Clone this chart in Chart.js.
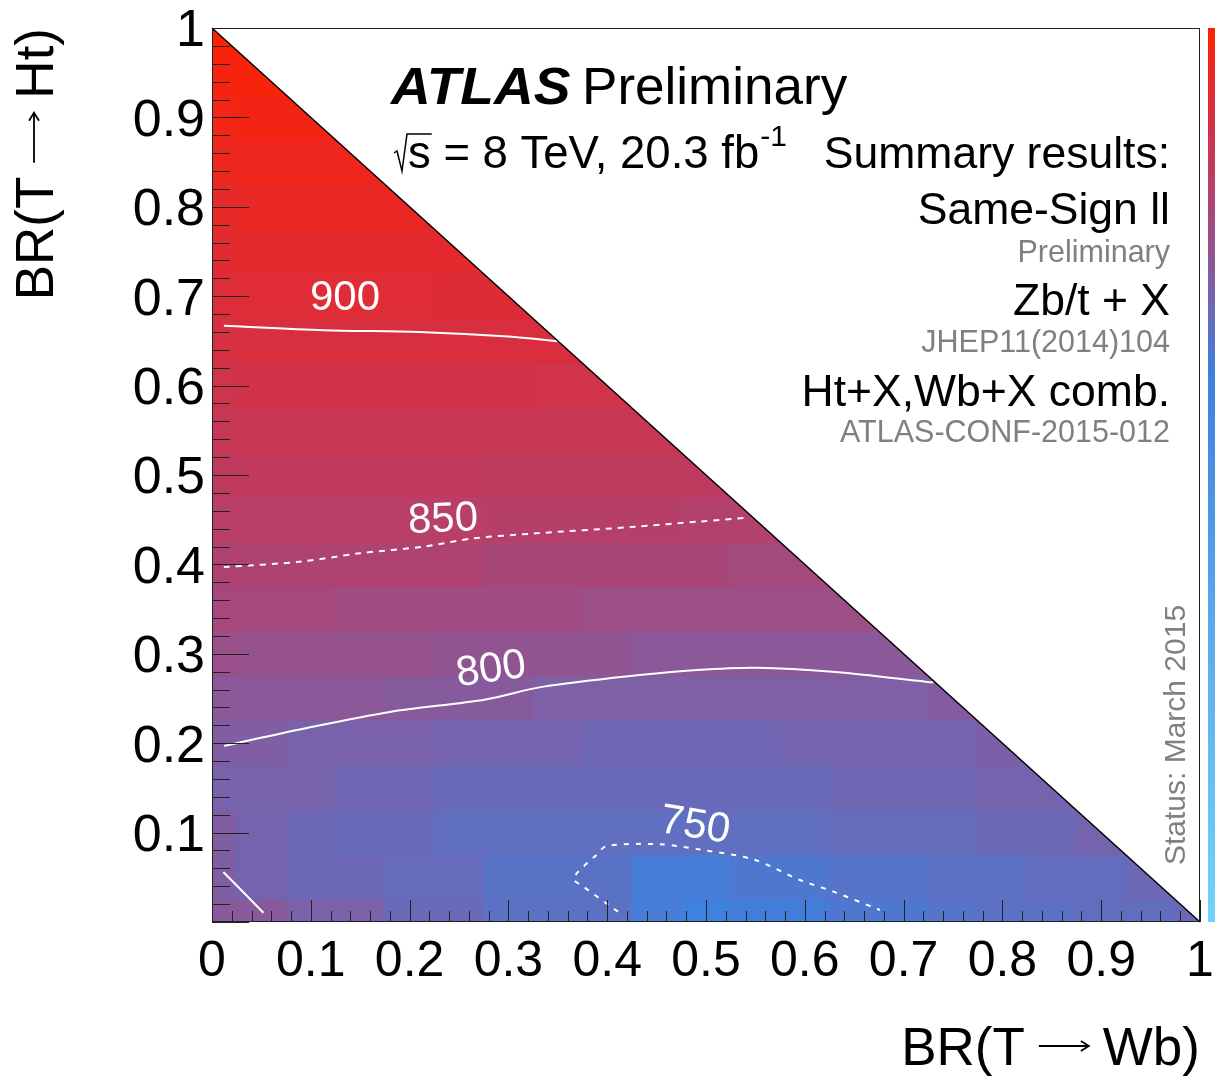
<!DOCTYPE html>
<html>
<head>
<meta charset="utf-8">
<script src="https://cdn.jsdelivr.net/npm/chart.js@4.4.1/dist/chart.umd.min.js"></script>
<style>
  html, body { margin: 0; padding: 0; background: #fff; }
  #wrap { width: 1215px; height: 1077px; }
</style>
</head>
<body>
<div id="wrap"><canvas id="limits" width="1215" height="1077"></canvas></div>
<script>
// Bin centres (both axes use 0.05 wide bins centred on these values)
const brWb = [0, 0.05, 0.1, 0.15, 0.2, 0.25, 0.3, 0.35, 0.4, 0.45, 0.5, 0.55, 0.6, 0.65, 0.7, 0.75, 0.8, 0.85, 0.9, 0.95, 1.0];
const brHt = [0, 0.05, 0.1, 0.15, 0.2, 0.25, 0.3, 0.35, 0.4, 0.45, 0.5, 0.55, 0.6, 0.65, 0.7, 0.75, 0.8, 0.85, 0.9, 0.95, 1.0];

// Expected mass limit (GeV) per BR(T->Ht) row, starting from BR(T->Wb) = 0
const ht000 = [808, 808, 795, 795, 782, 782, 770, 770, 770, 752, 743, 750, 750, 758, 758, 765, 770, 770, 776, 776, 782];
const ht005 = [800, 790, 783, 783, 778, 778, 768, 768, 768, 752, 752, 758, 758, 764, 764, 770, 770, 776, 776, 784];
const ht010 = [800, 791, 784, 780, 780, 773, 773, 773, 773, 773, 773, 773, 773, 777, 777, 777, 783, 783, 791];
const ht015 = [792, 792, 792, 786, 786, 780, 780, 780, 780, 780, 780, 780, 780, 785, 785, 785, 791, 791];
const ht020 = [801, 801, 794, 794, 794, 790, 790, 790, 786, 786, 786, 786, 790, 790, 790, 790, 797];
const ht025 = [811, 811, 811, 811, 806, 806, 806, 799, 799, 799, 799, 799, 799, 799, 799, 805];
const ht030 = [826, 822, 822, 822, 822, 817, 817, 817, 817, 811, 811, 811, 811, 811, 811];
const ht035 = [839, 839, 839, 833, 833, 833, 833, 833, 829, 829, 829, 829, 829, 829];
const ht040 = [848, 848, 848, 848, 848, 848, 842, 842, 842, 842, 842, 837, 837];
const ht045 = [858, 858, 858, 858, 858, 858, 857, 857, 857, 857, 852, 852];
const ht050 = [868, 869, 869, 869, 869, 869, 868, 868, 868, 868, 867];
const ht055 = [876, 879, 879, 879, 879, 879, 879, 878, 878, 878];
const ht060 = [886, 889, 889, 889, 889, 889, 889, 888, 888];
const ht065 = [896, 898, 898, 898, 898, 899, 899, 900];
const ht070 = [904, 907, 907, 907, 907, 906, 906];
const ht075 = [911, 914, 914, 914, 914, 913];
const ht080 = [917, 920, 920, 920, 920];
const ht085 = [925, 927, 927, 927];
const ht090 = [932, 934, 934];
const ht095 = [939, 941];
const ht100 = [948];
const massRows = [ht000, ht005, ht010, ht015, ht020, ht025, ht030, ht035, ht040, ht045, ht050,
                  ht055, ht060, ht065, ht070, ht075, ht080, ht085, ht090, ht095, ht100];

// Iso-mass contours, [BR(T->Wb), BR(T->Ht)] points
const contour900 = [[0.012, 0.667], [0.113, 0.662], [0.21, 0.66], [0.30, 0.655], [0.351, 0.6495]];
const contour850 = [[0.012, 0.397], [0.089, 0.403], [0.150, 0.4125], [0.215, 0.42], [0.264, 0.429],
                    [0.325, 0.4345], [0.427, 0.442], [0.494, 0.448], [0.5395, 0.452]];
const contour800 = [[0.012, 0.197], [0.096, 0.217], [0.18, 0.235], [0.277, 0.249], [0.334, 0.263],
                    [0.43, 0.276], [0.491, 0.282], [0.551, 0.2845], [0.628, 0.280], [0.73, 0.268]];
const contour800Corner = [[0.0115, 0.056], [0.052, 0.0104]];
const contour750 = [[0.411, 0.0115], [0.376, 0.0395], [0.366, 0.049], [0.389, 0.075], [0.3995, 0.085],
                    [0.453, 0.087], [0.494, 0.081], [0.548, 0.070], [0.595, 0.047], [0.629, 0.034], [0.676, 0.0134]];

const xTickLabels = ['0', '0.1', '0.2', '0.3', '0.4', '0.5', '0.6', '0.7', '0.8', '0.9', '1'];
const yTickLabels = ['', '0.1', '0.2', '0.3', '0.4', '0.5', '0.6', '0.7', '0.8', '0.9', '1'];

const FONT = '"Liberation Sans", Arial, Helvetica, sans-serif';
const halfBin = 0.025;

// colour palette (fraction of z range -> rgb), z range of the colour bar
const zMin = 420, zMax = 950;
const paletteStops = [
  [0.00, [115, 210, 250]],
  [0.34, [90, 168, 236]],
  [0.613, [62, 128, 222]],
  [0.717, [128, 94, 164]],
  [0.811, [176, 66, 112]],
  [0.906, [218, 46, 62]],
  [1.00, [255, 32, 0]]
];

function colourAt(f) {
  f = Math.min(1, Math.max(0, f));
  for (let i = 1; i < paletteStops.length; i++) {
    const [f0, c0] = paletteStops[i - 1];
    const [f1, c1] = paletteStops[i];
    if (f <= f1) {
      const t = (f - f0) / (f1 - f0);
      return 'rgb(' + c0.map((c, n) => Math.round(c + (c1[n] - c) * t)).join(',') + ')';
    }
  }
  return 'rgb(255,32,0)';
}
const colourFor = m => colourAt((m - zMin) / (zMax - zMin));

// 2D histogram cells, clipped to the physical triangle BR(Wb) + BR(Ht) <= 1
const heatmapPlugin = {
  id: 'heatmap',
  beforeDatasetsDraw(chart) {
    const { ctx, scales: { x, y } } = chart;
    ctx.save();
    ctx.beginPath();
    ctx.moveTo(x.getPixelForValue(0), y.getPixelForValue(0));
    ctx.lineTo(x.getPixelForValue(0), y.getPixelForValue(1));
    ctx.lineTo(x.getPixelForValue(1), y.getPixelForValue(0));
    ctx.closePath();
    ctx.clip();
    massRows.forEach((row, j) => {
      row.forEach((m, k) => {
        const x0 = Math.floor(x.getPixelForValue(brWb[k] - halfBin));
        const x1 = Math.ceil(x.getPixelForValue(brWb[k] + halfBin));
        const y0 = Math.floor(y.getPixelForValue(brHt[j] + halfBin));
        const y1 = Math.ceil(y.getPixelForValue(brHt[j] - halfBin));
        ctx.fillStyle = colourFor(m);
        ctx.fillRect(x0, y0, x1 - x0, y1 - y0);
      });
    });
    ctx.restore();
  }
};

// frame, diagonal, inward ticks and contour labels
const framePlugin = {
  id: 'frame',
  afterDatasetsDraw(chart) {
    const { ctx, chartArea: a, scales: { x, y } } = chart;
    ctx.save();
    ctx.strokeStyle = '#000';
    ctx.lineWidth = 1.5;
    ctx.beginPath();
    ctx.moveTo(x.getPixelForValue(0), y.getPixelForValue(1));
    ctx.lineTo(x.getPixelForValue(1), y.getPixelForValue(0));
    ctx.stroke();

    ctx.lineWidth = 1;
    ctx.strokeStyle = '#222';
    ctx.strokeRect(a.left + 0.5, a.top + 0.5, a.right - a.left - 1, a.bottom - a.top - 1);

    ctx.beginPath();
    for (let i = 0; i <= 50; i++) {
      const v = i / 50;
      const major = i % 5 === 0;
      const px = Math.round(x.getPixelForValue(v)) + 0.5;
      ctx.moveTo(px, a.bottom);
      ctx.lineTo(px, a.bottom - (major ? 22 : 11));
      const py = Math.round(y.getPixelForValue(v)) + 0.5;
      ctx.moveTo(a.left, py);
      ctx.lineTo(a.left + (major ? 37 : 18), py);
    }
    ctx.stroke();

    // contour labels
    ctx.fillStyle = '#fff';
    ctx.font = '42px ' + FONT;
    ctx.textAlign = 'center';
    ctx.textBaseline = 'middle';
    const labels = [
      ['900', 0.1346, 0.698, 0],
      ['850', 0.2338, 0.4497, -0.04],
      ['800', 0.2824, 0.2819, -0.14],
      ['750', 0.4889, 0.1074, 0.16]
    ];
    labels.forEach(([t, vx, vy, rot]) => {
      ctx.save();
      ctx.translate(x.getPixelForValue(vx), y.getPixelForValue(vy));
      ctx.rotate(rot);
      ctx.fillText(t, 0, 0);
      ctx.restore();
    });
    ctx.restore();
  }
};

// "BR(T -> X)" with a long ROOT style arrow, ending at x = 0 of the current frame
function drawArrowTitle(ctx, left, right) {
  ctx.font = '53px ' + FONT;
  const gap = 14, arrow = 50;
  const wl = ctx.measureText(left).width;
  const wr = ctx.measureText(right).width;
  let cx = -(wl + wr + 2 * gap + arrow);
  ctx.fillText(left, cx, 0);
  cx += wl + gap;
  const ay = -19;
  ctx.lineWidth = 1.8;
  ctx.beginPath();
  ctx.moveTo(cx, ay);
  ctx.lineTo(cx + arrow, ay);
  ctx.moveTo(cx + arrow - 8, ay - 5);
  ctx.lineTo(cx + arrow, ay);
  ctx.lineTo(cx + arrow - 8, ay + 5);
  ctx.stroke();
  cx += arrow + gap;
  ctx.fillText(right, cx, 0);
}

// colour bar sliver, axis titles and the legend texts
const textPlugin = {
  id: 'texts',
  afterDraw(chart) {
    const { ctx, chartArea: a } = chart;
    ctx.save();
    const grad = ctx.createLinearGradient(0, a.bottom, 0, a.top);
    paletteStops.forEach(([f, c]) => grad.addColorStop(f, 'rgb(' + c.join(',') + ')'));
    ctx.fillStyle = grad;
    ctx.fillRect(a.right + 8, a.top, 10, a.bottom - a.top);

    ctx.fillStyle = '#000';
    ctx.strokeStyle = '#000';
    ctx.textBaseline = 'alphabetic';
    ctx.textAlign = 'left';

    // axis titles
    ctx.save();
    ctx.translate(a.right, 1065);
    drawArrowTitle(ctx, 'BR(T', 'Wb)');
    ctx.restore();
    ctx.save();
    ctx.translate(53, a.top);
    ctx.rotate(-Math.PI / 2);
    drawArrowTitle(ctx, 'BR(T', 'Ht)');
    ctx.restore();

    ctx.save();
    ctx.translate(391, 104);
    ctx.scale(1.08, 1);
    ctx.font = 'italic bold 51px ' + FONT;
    ctx.fillText('ATLAS', 0, 0);
    ctx.restore();
    ctx.save();
    ctx.translate(582, 104);
    ctx.scale(1.04, 1);
    ctx.font = '51px ' + FONT;
    ctx.fillText('Preliminary', 0, 0);
    ctx.restore();

    // sqrt(s) = 8 TeV, 20.3 fb^-1
    ctx.font = '45.5px ' + FONT;
    ctx.lineWidth = 1.5;
    const sW = ctx.measureText('s').width;
    ctx.beginPath();
    ctx.moveTo(394, 153);
    ctx.lineTo(397, 151);
    ctx.lineTo(402, 171);
    ctx.lineTo(407, 134);
    ctx.lineTo(409 + sW, 134);
    ctx.stroke();
    ctx.fillText('s', 408, 168);
    const rest = ' = 8 TeV, 20.3 fb';
    ctx.fillText(rest, 408 + sW, 168);
    const endX = 408 + sW + ctx.measureText(rest).width;
    ctx.font = '30px ' + FONT;
    ctx.fillText('-1', endX + 1, 146);

    ctx.textAlign = 'right';
    const big = '44.5px ' + FONT, small = '30.5px ' + FONT;
    const lines = [
      ['Summary results:', big, '#000', 168],
      ['Same-Sign ll', big, '#000', 224],
      ['Preliminary', small, '#808080', 262],
      ['Zb/t + X', big, '#000', 315],
      ['JHEP11(2014)104', small, '#808080', 352],
      ['Ht+X,Wb+X comb.', big, '#000', 406],
      ['ATLAS-CONF-2015-012', small, '#808080', 442]
    ];
    lines.forEach(([t, f, c, yy]) => {
      ctx.font = f;
      ctx.fillStyle = c;
      ctx.fillText(t, 1170, yy);
    });

    ctx.save();
    ctx.translate(1185, 735);
    ctx.rotate(-Math.PI / 2);
    ctx.textAlign = 'center';
    ctx.font = '30px ' + FONT;
    ctx.fillStyle = '#808080';
    ctx.fillText('Status: March 2015', 0, 0);
    ctx.restore();
    ctx.restore();
  }
};

function contourSet(points, dash) {
  return {
    data: points.map(([px, py]) => ({ x: px, y: py })),
    showLine: true,
    pointRadius: 0,
    borderColor: '#ffffff',
    borderWidth: 2,
    borderDash: dash,
    tension: 0.3,
    fill: false
  };
}

const ctx = document.getElementById('limits').getContext('2d');
new Chart(ctx, {
  type: 'scatter',
  data: {
    datasets: [
      contourSet(contour900, []),
      contourSet(contour850, [6, 6]),
      contourSet(contour800, []),
      contourSet(contour800Corner, []),
      contourSet(contour750, [5, 7])
    ]
  },
  options: {
    responsive: false,
    animation: false,
    devicePixelRatio: 1,
    layout: { padding: { top: 28, right: 15, left: 0, bottom: 0 } },
    plugins: { legend: { display: false }, tooltip: { enabled: false } },
    scales: {
      x: {
        type: 'linear', min: 0, max: 1,
        afterFit(s) { s.height = 155; s.paddingLeft = 0; s.paddingRight = 0; },
        grid: { display: false, drawTicks: false },
        border: { display: false },
        ticks: {
          stepSize: 0.1, autoSkip: false, maxRotation: 0, padding: 15, color: '#000',
          font: { family: FONT, size: 50, lineHeight: 1 },
          callback: v => xTickLabels[Math.round(v * 10)]
        }
      },
      y: {
        type: 'linear', min: 0, max: 1,
        afterFit(s) { s.width = 212; s.paddingTop = 0; s.paddingBottom = 0; },
        grid: { display: false, drawTicks: false },
        border: { display: false },
        ticks: {
          stepSize: 0.1, autoSkip: false, padding: 7, labelOffset: 4, color: '#000',
          font: { family: FONT, size: 52, lineHeight: 1 },
          callback: v => yTickLabels[Math.round(v * 10)]
        }
      }
    }
  },
  plugins: [heatmapPlugin, framePlugin, textPlugin]
});
</script>
</body>
</html>
